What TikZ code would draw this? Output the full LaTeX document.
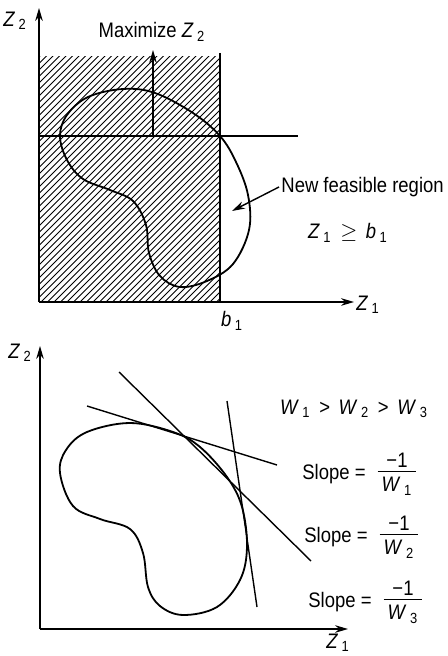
\documentclass[tikz,border=0pt]{standalone}
\usepackage{fontspec}
\setmainfont[FakeStretch=0.88]{Liberation Sans}
\usetikzlibrary{arrows.meta}
\newcommand{\vz}[2]{\textit{#1}\,\textsubscript{#2}}
\begin{document}
\begin{tikzpicture}[x=0.5pt,y=-0.5pt,
  txt/.style={font=\fontsize{10.5}{12}\selectfont, inner sep=1pt},
  axis/.style={line width=0.65pt, -{Stealth[length=6.5pt,width=3.8pt]}},
  curve/.style={line width=0.9pt},
  thin line/.style={line width=0.7pt},
  hatch/.style={line width=0.45pt}]
\useasboundingbox (0,0) rectangle (447,656);
% ---------- top panel ----------
\coordinate (o1) at (39,302);
\coordinate (y1) at (39,8);
\coordinate (x1) at (354,302);
\begin{scope}
  \clip (39,57) rectangle (220,302);
  \foreach \c in {96,102.5,...,530} {
    \draw[hatch] (\c-320,320) -- (\c-40,40);
  }
\end{scope}
\coordinate (vt) at (220,53);
\coordinate (vb) at (220,302);
\draw[thin line] (vt) -- (vb);
\coordinate (hl) at (39,136);
\coordinate (hr) at (298,136);
\draw[thin line] (hl) -- (hr);
\coordinate (ma) at (153,136);
\coordinate (mb) at (153,50);
\draw[thin line, -{Stealth[length=6.5pt,width=3.8pt]}] (ma) -- (mb);
\draw[curve] plot[smooth cycle, tension=0.6] coordinates {
 (60,136) (67,160) (83,179) (110,190) (133,201) (146,225) (149,253)
 (160,276) (180,287) (207,281) (233,264) (249,230) (248,195) (236,162)
 (220,136) (193,113) (155,93) (123,89) (88,97) (67,115)};
\draw[axis] (o1) -- (y1);
\draw[axis] (o1) -- (x1);
\node[txt] (z2a) at (15,21) {\vz{Z}{2}};
\node[txt] (z1a) at (368,305) {\vz{Z}{1}};
\node[txt] (b1) at (232,321) {\vz{b}{1}};
\node[txt] (max) at (152,32) {Maximize \vz{Z}{2}};
\node[txt, anchor=west] (nfr) at (279,187) {New feasible region};
\coordinate (nfrtip) at (232,211);
\draw[thin line, -{Stealth[length=6.5pt,width=3.8pt]}] (nfr.west) -- (nfrtip);
\node[txt] (ineq) at (348,233) {\vz{Z}{1} \,$\geq$\, \vz{b}{1}};
% ---------- bottom panel ----------
\coordinate (o2) at (40,629);
\coordinate (y2) at (40,346);
\coordinate (x2) at (348,629);
\draw[axis] (o2) -- (y2);
\draw[axis] (o2) -- (x2);
\node[txt] (z2b) at (20,353) {\vz{Z}{2}};
\node[txt] (z1b) at (338,643) {\vz{Z}{1}};
\draw[curve] plot[smooth cycle, tension=0.6] coordinates {
 (60,473) (73,506) (100,519) (130,529) (143,553) (148,587) (160,606)
 (183,615) (217,607) (240,580) (247,547) (242,507) (227,477) (200,447)
 (173,432) (130,423) (87,432) (66,450)};
\coordinate (l1a) at (87,406);
\coordinate (l1b) at (277,465);
\coordinate (l2a) at (119,372);
\coordinate (l2b) at (311,561);
\coordinate (l3a) at (227,401);
\coordinate (l3b) at (257,607);
\draw[thin line] (l1a) -- (l1b);
\draw[thin line] (l2a) -- (l2b);
\draw[thin line] (l3a) -- (l3b);
\node[txt] (ord) at (354,409) {\vz{W}{1} \,>\, \vz{W}{2} \,>\, \vz{W}{3}};
\node[txt, anchor=east] (s1) at (368,474) {Slope =};
\node[txt] (f1) at (397,475) {\begin{tabular}{@{\hspace{2pt}}c@{\hspace{2pt}}}−1\\[-2pt]\hline\rule{0pt}{10pt}\vz{W}{1}\end{tabular}};
\node[txt, anchor=east] (s2) at (370,537) {Slope =};
\node[txt] (f2) at (399,538) {\begin{tabular}{@{\hspace{2pt}}c@{\hspace{2pt}}}−1\\[-2pt]\hline\rule{0pt}{10pt}\vz{W}{2}\end{tabular}};
\node[txt, anchor=east] (s3) at (374,602) {Slope =};
\node[txt] (f3) at (403,603) {\begin{tabular}{@{\hspace{2pt}}c@{\hspace{2pt}}}−1\\[-2pt]\hline\rule{0pt}{10pt}\vz{W}{3}\end{tabular}};
\end{tikzpicture}
\end{document}
